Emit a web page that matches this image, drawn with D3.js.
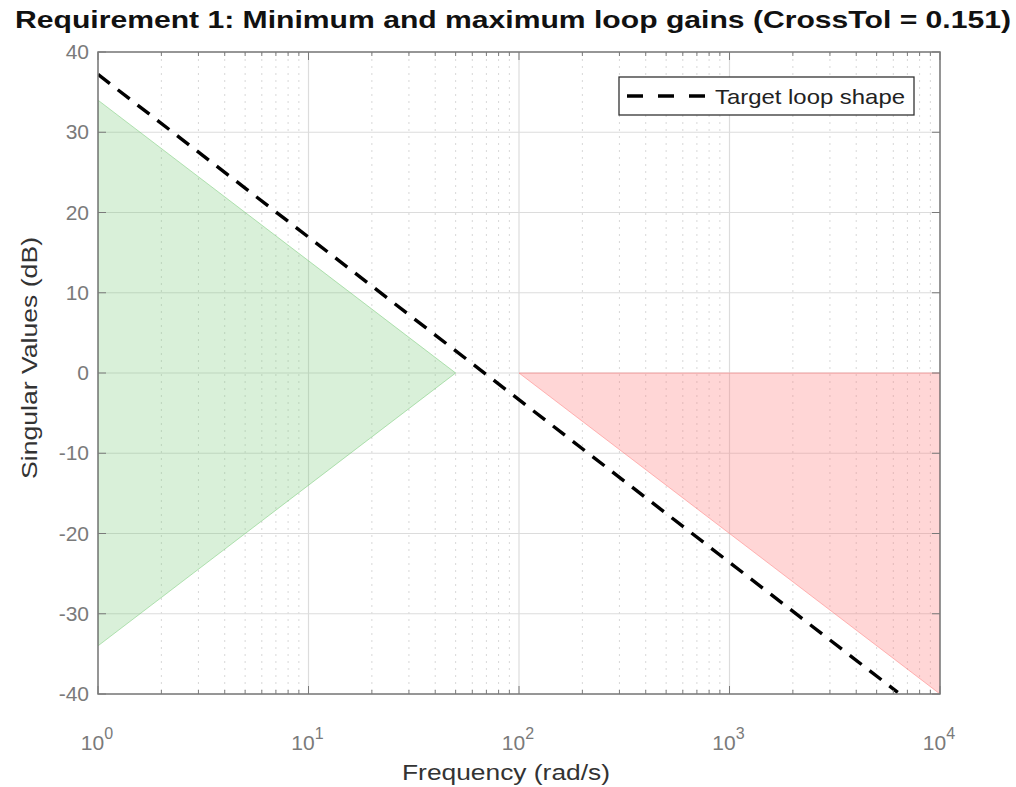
<!DOCTYPE html>
<html><head><meta charset="utf-8">
<script src="https://cdn.jsdelivr.net/npm/d3@7"></script>
<style>body{margin:0;background:#fff;} text{font-family:"Liberation Sans",Arial,sans-serif;}</style>
</head><body>
<svg id="c" width="1016" height="787"></svg>
<script>
const title = "Requirement 1: Minimum and maximum loop gains (CrossTol = 0.151)";
const xLabel = "Frequency (rad/s)";
const yLabel = "Singular Values (dB)";
const legendLabel = "Target loop shape";
const xTickExps = [0, 1, 2, 3, 4];
const yTicks = [-40, -30, -20, -10, 0, 10, 20, 30, 40];
// Target loop shape (dB vs rad/s)
const targetFreq = [1, 6300];
const targetGain = [37.2, -39.8];
// Minimum gain region (green)
const minFreq = [1, 50, 1];
const minGain = [34, 0, -34];
// Maximum gain region (red)
const maxFreq = [100, 10000, 10000];
const maxGain = [0, 0, -40];

const svg = d3.select("#c");
const L = 98, R = 940, T = 52, B = 694;
const x = d3.scaleLog().domain([1, 10000]).range([L, R]);
const y = d3.scaleLinear().domain([-40, 40]).range([B, T]);

svg.append("defs").append("clipPath").attr("id","clip")
  .append("rect").attr("x",L).attr("y",T).attr("width",R-L).attr("height",B-T);

const minor = [];
for (let e = 0; e < 4; e++) for (let k = 2; k <= 9; k++) minor.push(k * Math.pow(10, e));
svg.append("g").selectAll("line").data(minor).join("line")
  .attr("x1", d => x(d)).attr("x2", d => x(d)).attr("y1", T).attr("y2", B)
  .attr("stroke", "#d8d8d8").attr("stroke-width", 1).attr("stroke-dasharray", "2,5");
svg.append("g").selectAll("line").data(xTickExps.map(e => Math.pow(10, e))).join("line")
  .attr("x1", d => x(d)).attr("x2", d => x(d)).attr("y1", T).attr("y2", B)
  .attr("stroke", "#dcdcdc").attr("stroke-width", 1.2);
svg.append("g").selectAll("line").data(yTicks).join("line")
  .attr("x1", L).attr("x2", R).attr("y1", d => y(d)).attr("y2", d => y(d))
  .attr("stroke", "#dcdcdc").attr("stroke-width", 1.2);

const g = svg.append("g").attr("clip-path", "url(#clip)");
const poly = (fr, ga) => fr.map((f, i) => [x(f), y(ga[i])]).map(p => p.join(",")).join(" ");
g.append("polygon").attr("points", poly(minFreq, minGain))
  .attr("fill", "rgba(120,200,120,0.28)").attr("stroke", "rgba(110,200,110,0.5)").attr("stroke-width", 1);
g.append("polygon").attr("points", poly(maxFreq, maxGain))
  .attr("fill", "rgba(255,120,120,0.3)").attr("stroke", "rgba(255,120,120,0.5)").attr("stroke-width", 1);

const line = d3.line().x((d, i) => x(targetFreq[i])).y((d, i) => y(targetGain[i]));
g.append("path").attr("d", line(targetFreq)).attr("fill", "none")
  .attr("stroke", "#000").attr("stroke-width", 3.4).attr("stroke-dasharray", "15,10");

const ax = "#7a7a7a";
svg.append("rect").attr("x", L).attr("y", T).attr("width", R - L).attr("height", B - T)
  .attr("fill", "none").attr("stroke", ax).attr("stroke-width", 1.5);
const allX = minor.concat(xTickExps.map(e => Math.pow(10, e)));
svg.append("g").selectAll("line").data(allX).join("line")
  .attr("x1", d => x(d)).attr("x2", d => x(d)).attr("y1", B).attr("y2", d => B - (minor.includes(d) ? 4 : 8))
  .attr("stroke", ax);
svg.append("g").selectAll("line").data(allX).join("line")
  .attr("x1", d => x(d)).attr("x2", d => x(d)).attr("y1", T).attr("y2", d => T + (minor.includes(d) ? 4 : 8))
  .attr("stroke", ax);
svg.append("g").selectAll("line").data(yTicks).join("line")
  .attr("x1", L).attr("x2", L + 8).attr("y1", d => y(d)).attr("y2", d => y(d)).attr("stroke", ax);
svg.append("g").selectAll("line").data(yTicks).join("line")
  .attr("x1", R).attr("x2", R - 8).attr("y1", d => y(d)).attr("y2", d => y(d)).attr("stroke", ax);

svg.append("g").selectAll("text").data(yTicks).join("text")
  .attr("x", L - 9).attr("y", d => y(d) + 7).attr("text-anchor", "end")
  .attr("font-size", 21).attr("fill", "#7a7a7a").text(d => d);
const xt = svg.append("g").selectAll("text").data(xTickExps).join("text")
  .attr("x", d => x(Math.pow(10, d)) - 1).attr("y", 750).attr("text-anchor", "middle")
  .attr("font-size", 21).attr("fill", "#7a7a7a");
xt.append("tspan").text("10");
xt.append("tspan").attr("dy", -11).attr("font-size", 16).text(d => d);

svg.append("text").attr("x", 506).attr("y", 780).attr("text-anchor", "middle")
  .attr("font-size", 22).attr("fill", "#333").attr("textLength", 208).attr("lengthAdjust", "spacingAndGlyphs").text(xLabel);
svg.append("text").attr("transform", `translate(37,358) rotate(-90)`).attr("text-anchor", "middle")
  .attr("font-size", 22).attr("fill", "#333").attr("textLength", 242).attr("lengthAdjust", "spacingAndGlyphs").text(yLabel);
svg.append("text").attr("x", 15).attr("y", 28)
  .attr("font-size", 24).attr("font-weight", "bold").attr("fill", "#111")
  .attr("textLength", 996).attr("lengthAdjust", "spacingAndGlyphs").text(title);

const lg = svg.append("g");
lg.append("rect").attr("x", 619).attr("y", 77).attr("width", 295).attr("height", 38)
  .attr("fill", "#fff").attr("stroke", "#333").attr("stroke-width", 1.3);
lg.append("line").attr("x1", 627).attr("x2", 708).attr("y1", 96).attr("y2", 96)
  .attr("stroke", "#000").attr("stroke-width", 3.4).attr("stroke-dasharray", "16,15");
lg.append("text").attr("x", 715).attr("y", 104).attr("font-size", 21).attr("fill", "#222")
  .attr("textLength", 190).attr("lengthAdjust", "spacingAndGlyphs").text(legendLabel);
</script>
</body></html>
